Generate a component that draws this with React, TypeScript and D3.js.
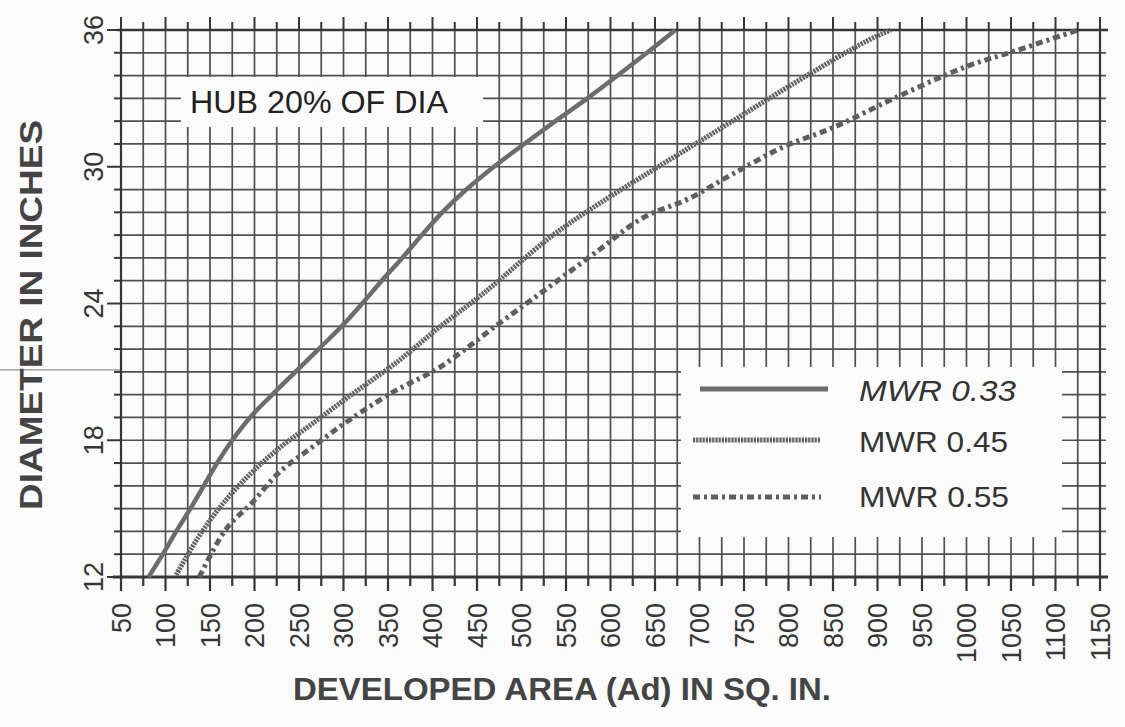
import React from 'react';
import * as d3 from 'd3';

// ---- data ----
const xTickLabels = [50, 100, 150, 200, 250, 300, 350, 400, 450, 500, 550, 600, 650, 700, 750, 800, 850, 900, 950, 1000, 1050, 1100, 1150];
const yTickLabels = [12, 18, 24, 30, 36];

const mwr033Dia = [12, 13, 14, 15, 16, 17, 18, 19, 20, 21, 22, 23, 24, 25, 26, 27, 28, 29, 30, 31, 32, 33, 34, 35, 36];
const mwr033Area = [81, 97, 112, 128, 143, 158, 175, 195, 220, 246, 272, 298, 321, 343, 366, 388, 411, 438, 469, 503, 538, 574, 608, 641, 673];

const mwr045Dia = [12.1, 13.75, 15.1, 16.4, 17.6, 18.7, 20, 21.4, 23, 24.5, 26.9, 28.4, 30.2, 32, 33.8, 35.5, 36];
const mwr045Area = [112, 137, 162, 192, 226, 264, 309, 359, 409, 459, 532, 588, 662, 737, 812, 887, 915];

const mwr055Dia = [12, 14.1, 15.25, 16.6, 17.7, 18.9, 20.1, 21.2, 23.1, 24.7, 26.35, 27.75, 28.6, 29.7, 30.9, 31.7, 33.1, 34.4, 35.1, 36];
const mwr055Area = [138, 168, 197, 228, 265, 307, 355, 408, 474, 530, 587, 636, 688, 738, 796, 849, 924, 1000, 1056, 1125];

const legendLabels = ['MWR 0.33', 'MWR 0.45', 'MWR 0.55'];
const hubLabel = 'HUB 20% OF DIA';
const xTitle = 'DEVELOPED AREA (Ad) IN SQ. IN.';
const yTitle = 'DIAMETER IN INCHES';

// ---- layout ----
const W = 1125;
const H = 727;
const FONT = '"Liberation Sans", Arial, Helvetica, sans-serif';
const INK = '#363636';
const GRID = '#505050';
const PAPER = '#fbfbfb';

export default function App() {
  const x = d3.scaleLinear().domain([50, 1150]).range([121, 1100]);
  const y = d3.scaleLinear().domain([12, 36]).range([577, 30]);

  const vGrid = d3.range(50, 1151, 25);
  const hGrid = d3.range(12, 37, 1);

  const line = d3
    .line<[number, number]>()
    .x((d) => x(d[0]))
    .y((d) => y(d[1]))
    .curve(d3.curveCatmullRom.alpha(0.5));

  const s033 = mwr033Area.map((a, i) => [a, mwr033Dia[i]] as [number, number]);
  const s045 = mwr045Area.map((a, i) => [a, mwr045Dia[i]] as [number, number]);
  const s055 = mwr055Area.map((a, i) => [a, mwr055Dia[i]] as [number, number]);

  const [x0, x1] = x.range();
  const [yb, yt] = y.range();

  const styles = [
    { stroke: '#6c6c6c', width: 4.5, dash: undefined as string | undefined },
    { stroke: '#626262', width: 5, dash: '2.2 1' },
    { stroke: '#5f5f5f', width: 5, dash: '7 4 3 4' },
  ];

  const legendY = [389, 440, 497];
  const legendTextY = [401, 452, 507];
  const legendLen = [157, 149, 150];

  return (
    <svg
      width={W}
      height={H}
      style={{ position: 'absolute', left: 0, top: 0, background: PAPER }}
      fontFamily={FONT}
    >
      <rect x={0} y={0} width={W} height={H} fill={PAPER} />

      {/* scan artifact line on the left */}
      <line x1={0} x2={x0} y1={y(21) - 2} y2={y(21) - 2} stroke="#777" strokeWidth={1} />

      {/* grid */}
      <g>
        {vGrid.map((v) => (
          <line key={'v' + v} x1={x(v)} x2={x(v)} y1={yt} y2={yb} stroke={GRID} strokeWidth={1.7} />
        ))}
        {hGrid.map((v) => (
          <line key={'h' + v} x1={x0} x2={x1 + 6} y1={y(v)} y2={y(v)} stroke={GRID} strokeWidth={1.7} />
        ))}
      </g>

      {/* top ticks */}
      {vGrid.map((v, i) => (
        <line
          key={'tt' + v}
          x1={x(v)}
          x2={x(v)}
          y1={yt}
          y2={yt - (i % 2 === 0 ? 13 : 8)}
          stroke={INK}
          strokeWidth={2}
        />
      ))}
      {/* bottom ticks */}
      {vGrid.map((v, i) => (
        <line
          key={'bt' + v}
          x1={x(v)}
          x2={x(v)}
          y1={yb}
          y2={yb + (i % 2 === 0 ? 14 : 9)}
          stroke={INK}
          strokeWidth={2.2}
        />
      ))}
      {/* left ticks */}
      {hGrid.map((v) => (
        <line
          key={'lt' + v}
          x1={x0}
          x2={x0 - (v % 6 === 0 ? 14 : 7)}
          y1={y(v)}
          y2={y(v)}
          stroke={INK}
          strokeWidth={2}
        />
      ))}

      {/* frame */}
      <line x1={x0 - 4} x2={x1 + 8} y1={yt} y2={yt} stroke={INK} strokeWidth={2.4} />
      <line x1={x0 - 8} x2={x1 + 8} y1={yb} y2={yb} stroke={INK} strokeWidth={3} />
      <line x1={x0} x2={x0} y1={yt} y2={yb} stroke={INK} strokeWidth={2.2} />
      <line x1={x1} x2={x1} y1={yt - 4} y2={yb} stroke={INK} strokeWidth={2.2} />

      {/* hub label box */}
      <rect x={181} y={77} width={302} height={50} fill={PAPER} />
      <text x={190} y={113} fontSize={31} fill="#222" textLength={258} lengthAdjust="spacingAndGlyphs">
        {hubLabel}
      </text>

      {/* legend box */}
      <rect x={681} y={367} width={381} height={170} fill={PAPER} />

      {/* curves */}
      {[s033, s045, s055].map((s, i) => (
        <path
          key={'c' + i}
          d={line(s) || ''}
          fill="none"
          stroke={styles[i].stroke}
          strokeWidth={styles[i].width}
          strokeDasharray={styles[i].dash}
          strokeLinecap="butt"
        />
      ))}

      {/* legend */}
      {legendLabels.map((lab, i) => (
        <g key={'lg' + i}>
          <line
            x1={i === 0 ? 700 : 693}
            x2={i === 0 ? 828 : 821}
            y1={legendY[i]}
            y2={legendY[i]}
            stroke={styles[i].stroke}
            strokeWidth={5}
            strokeDasharray={styles[i].dash}
          />
          <text
            x={859}
            y={legendTextY[i]}
            fontSize={29}
            fill="#333"
            fontStyle={i === 0 ? 'italic' : 'normal'}
            textLength={legendLen[i]}
            lengthAdjust="spacingAndGlyphs"
          >
            {lab}
          </text>
        </g>
      ))}

      {/* x tick labels */}
      {xTickLabels.map((v) => (
        <text
          key={'xl' + v}
          transform={`translate(${x(v) + 9.5},603) rotate(-90)`}
          textAnchor="end"
          fontSize={27}
          fill={INK}
        >
          {v}
        </text>
      ))}

      {/* y tick labels */}
      {yTickLabels.map((v) => (
        <text
          key={'yl' + v}
          transform={`translate(${x0 - 18},${y(v)}) rotate(-90)`}
          textAnchor="middle"
          fontSize={27}
          fill={INK}
        >
          {v}
        </text>
      ))}

      {/* axis titles */}
      <text
        x={562}
        y={700}
        textAnchor="middle"
        fontSize={32}
        fontWeight="bold"
        fill="#444"
        textLength={538}
        lengthAdjust="spacingAndGlyphs"
      >
        {xTitle}
      </text>
      <text
        transform={`translate(42,315) rotate(-90)`}
        textAnchor="middle"
        fontSize={32}
        fontWeight="bold"
        fill="#444"
        textLength={390}
        lengthAdjust="spacingAndGlyphs"
      >
        {yTitle}
      </text>
    </svg>
  );
}
